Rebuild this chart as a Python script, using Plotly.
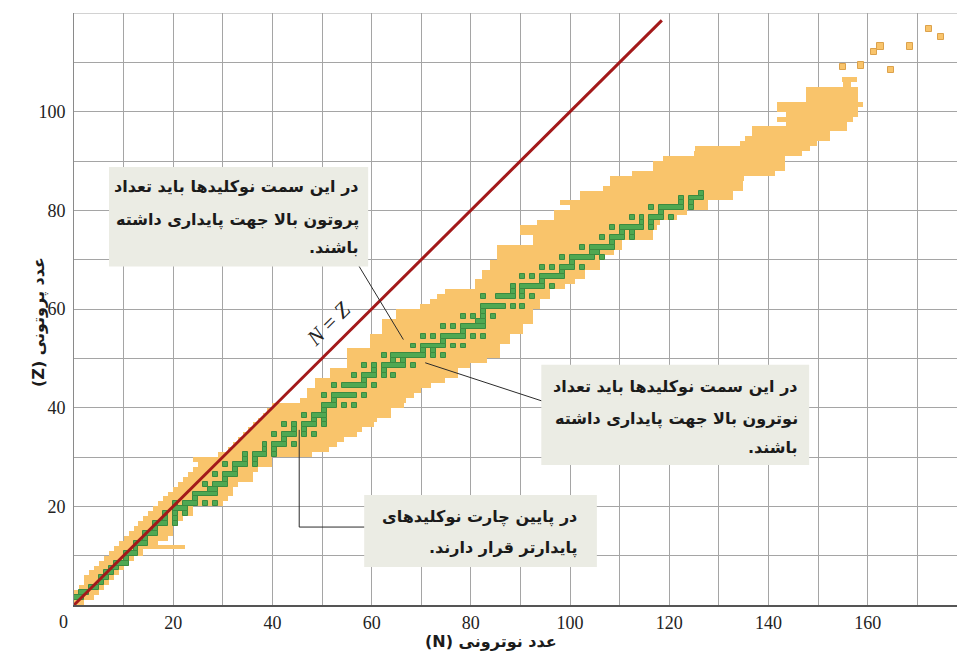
import plotly.graph_objects as go

# ---------------- data ----------------
# Known nuclides band: for each proton row Z (cell spans Z..Z+1), leftmost and rightmost N edge
orange_Z = list(range(0, 107))
orange_Nmin = [0, 0, 0, 1, 2, 2, 3, 4, 5, 6,
               7, 8, 9, 10, 11, 12, 13, 14, 15, 16,
               17, 18, 19, 20, 21, 22, 23, 24, 25, 24,
               29, 31, 32, 33, 34, 35, 36, 37, 38, 39,
               40, 45.6, 46.9, 46.9, 48.6, 48.6, 51.6, 51.6, 55, 55,
               55, 55, 59.7, 59.7, 59.7, 62, 62, 62, 65, 65,
               69.8, 71.8, 73.2, 74.8, 80.8, 80.8, 82.2, 82.2, 83.9, 83.9,
               85.2, 85.2, 85.2, 92.6, 92.6, 89.9, 89.9, 93.3, 96.7, 96.7,
               100, 98, 102, 102, 106.7, 108, 108, 112.4, 116.8, 116.8,
               118.8, 124.9, 125.2, 134.3, 135.3, 136.6, 136.6, 143.6, 141.7, 143.6,
               141.7, 141.7, 147.6, 147.6, 147.6, 155, 154.8]
orange_Nmax = [2, 4, 5, 6, 7, 8, 9, 10, 11, 12,
               14, 14, 17, 19, 20, 20, 21, 22, 24, 24,
               30, 31, 32, 32, 33, 36, 36, 37, 40, 40,
               48, 51.5, 53, 54.5, 57, 58, 60.5, 61, 64, 64,
               66.5, 67, 68.5, 70, 72, 74.8, 77.5, 77.5, 79.8, 83.2,
               85.9, 85.9, 85.9, 87.9, 87.9, 90.6, 90.6, 92.6, 92.6, 92.6,
               94, 94, 96, 96, 99, 101, 103, 103, 106, 106,
               107, 108.8, 110.4, 110.4, 116.8, 116.8, 117.5, 118.2, 121.5, 123.5,
               127.9, 127.9, 132.9, 132.9, 134.9, 134.9, 135, 141.3, 143.3, 143.3,
               143.3, 146.7, 148.4, 149.7, 152.4, 152.4, 155.8, 155.8, 157, 158,
               158, 159, 158, 158, 158, 156.6, 157.8]

# thin stray strip of known nuclides near Z = 12
strip_Z = [11.8]
strip_N0 = [14]
strip_N1 = [22.4]

# isolated superheavy nuclides (cell centres)
superheavy_N = [155.0, 158.7, 161.3, 162.6, 164.7, 168.5, 172.4, 174.8]
superheavy_Z = [109.1, 109.4, 112.1, 113.2, 108.5, 113.2, 116.8, 115.1]

# stable nuclides: neutron numbers for each Z (list index = Z)
stable_N_by_Z = [
    [], [0, 1], [1, 2], [3, 4], [5], [5, 6], [6, 7], [7, 8], [8, 9, 10], [10],
    [10, 11, 12], [12], [12, 13, 14], [14], [14, 15, 16], [16], [16, 17, 18, 20], [18, 20], [18, 20, 22], [20, 21, 22],
    [20, 22, 23, 24, 26, 28], [24], [24, 25, 26, 27, 28], [27, 28], [26, 28, 29, 30], [30], [28, 30, 31, 32], [32],
    [30, 32, 33, 34, 36], [34, 36],
    [34, 36, 37, 38, 40], [38, 40], [38, 40, 41, 42, 44], [42], [40, 42, 43, 44, 46, 48], [44, 46],
    [42, 44, 46, 47, 48, 50], [48, 50], [46, 48, 49, 50], [50],
    [50, 51, 52, 54, 56], [52], [50, 52, 53, 54, 55, 56, 58], [], [52, 54, 55, 56, 57, 58, 60], [58],
    [56, 58, 59, 60, 62, 64], [60, 62], [58, 60, 62, 63, 64, 65, 66, 68], [64, 66],
    [62, 64, 65, 66, 67, 68, 69, 70, 72, 74], [70, 72], [68, 70, 71, 72, 73, 74, 76, 78], [74],
    [70, 72, 74, 75, 76, 77, 78, 80, 82], [78], [74, 76, 78, 79, 80, 81, 82], [81, 82], [78, 80, 82, 84], [82],
    [82, 83, 84, 85, 86, 88, 90], [], [82, 85, 86, 87, 88, 90, 92], [88, 90], [88, 90, 91, 92, 93, 94, 96], [94],
    [90, 92, 94, 95, 96, 97, 98], [98], [94, 96, 98, 99, 100, 102], [100],
    [98, 100, 101, 102, 103, 104, 106], [104, 105], [102, 104, 105, 106, 107, 108], [108], [106, 108, 109, 110, 112],
    [110, 112], [108, 110, 111, 112, 113, 114, 116], [114, 116], [112, 114, 116, 117, 118, 120], [118],
    [116, 118, 119, 120, 121, 122, 124], [122, 124], [122, 124, 125, 126], [126],
]

# N = Z reference line (end points along the diagonal)
line_NZ = [0, 118.5]

x_tick_vals = list(range(0, 180, 10))
x_tick_text = [str(v) if (v % 20 == 0 and v > 0) else "" for v in x_tick_vals]
y_tick_vals = list(range(0, 130, 10))
y_tick_text = [str(v) if (v % 20 == 0 and 0 < v <= 100) else "" for v in y_tick_vals]

# ---------------- styles ----------------
ORANGE = "#f9c46b"
GREEN = "#4fa852"
GREEN_EDGE = "#3c8a40"
RED = "#a3191a"
GRID = "#a5a5a5"
BOX = "#ebece4"
FA_FONT = "DejaVu Sans"
NUM_FONT = "Liberation Serif"

fig = go.Figure()

# known nuclides band
fig.add_trace(go.Bar(
    orientation="h",
    y=[z + 0.5 for z in orange_Z],
    base=orange_Nmin,
    x=[b - a for a, b in zip(orange_Nmin, orange_Nmax)],
    width=1.0,
    marker=dict(color=ORANGE, line=dict(width=0)),
    hoverinfo="skip",
))
fig.add_trace(go.Bar(
    orientation="h",
    y=strip_Z,
    base=strip_N0,
    x=[b - a for a, b in zip(strip_N0, strip_N1)],
    width=0.8,
    marker=dict(color=ORANGE, line=dict(width=0)),
    hoverinfo="skip",
))
fig.add_trace(go.Bar(
    orientation="h",
    y=superheavy_Z,
    base=[n - 0.65 for n in superheavy_N],
    x=[1.3] * len(superheavy_N),
    width=1.3,
    marker=dict(color=ORANGE, line=dict(width=1, color="#dca24c")),
    hoverinfo="skip",
))

# stable nuclides (consecutive N merged into runs)
run_Z, run_N0, run_len = [], [], []
for z, ns in enumerate(stable_N_by_Z):
    ns = sorted(ns)
    i = 0
    while i < len(ns):
        j = i
        while j + 1 < len(ns) and ns[j + 1] == ns[j] + 1:
            j += 1
        run_Z.append(z + 0.5)
        run_N0.append(ns[i])
        run_len.append(ns[j] - ns[i] + 1)
        i = j + 1

fig.add_trace(go.Bar(
    orientation="h",
    y=run_Z,
    base=run_N0,
    x=run_len,
    width=1.0,
    marker=dict(color=GREEN, line=dict(width=1, color=GREEN_EDGE)),
    hoverinfo="skip",
))

# N = Z line
fig.add_trace(go.Scatter(
    x=line_NZ, y=line_NZ, mode="lines",
    line=dict(color=RED, width=3),
    hoverinfo="skip",
))

# ---------------- annotation boxes ----------------
shapes = [
    dict(type="line", xref="paper", yref="y", x0=0, x1=1, y0=120, y1=120,
         line=dict(color=GRID, width=1.2), layer="above"),
    dict(type="rect", xref="x", yref="y", x0=7.06, x1=59.3, y0=68.6, y1=88.8,
         fillcolor=BOX, line=dict(width=0), layer="above"),
    dict(type="rect", xref="x", yref="y", x0=94.2, x1=148.2, y0=28.4, y1=48.7,
         fillcolor=BOX, line=dict(width=0), layer="above"),
    dict(type="rect", xref="x", yref="y", x0=58.5, x1=105.4, y0=7.7, y1=22.3,
         fillcolor=BOX, line=dict(width=0), layer="above"),
    dict(type="line", xref="x", yref="y", x0=57.5, y0=68.6, x1=66.4, y1=53.8,
         line=dict(color="#2b2b2b", width=1), layer="above"),
    dict(type="line", xref="x", yref="y", x0=94.2, y0=41.4, x1=70.8, y1=49.1,
         line=dict(color="#2b2b2b", width=1), layer="above"),
    dict(type="path", xref="x", yref="y", path="M 58.5,15.8 L 45.4,15.8 L 45.4,35.5",
         line=dict(color="#2b2b2b", width=1), layer="above"),
]

RLM = "\u200f"
box_lines = [
    ("در این سمت نوکلیدها باید تعداد", 57.9, 84.8),
    ("پروتون بالا جهت پایداری داشته", 57.9, 78.1),
    ("باشند." + RLM, 57.9, 72.4),
    ("در این سمت نوکلیدها باید تعداد", 146.3, 44.2),
    ("نوترون بالا جهت پایداری داشته", 146.3, 37.7),
    ("باشند." + RLM, 146.3, 32.0),
    ("در پایین چارت نوکلیدهای", 101.8, 17.8),
    ("پایدارتر قرار دارند." + RLM, 101.8, 11.6),
]

annotations = []
for txt, x, y in box_lines:
    annotations.append(dict(
        text="<b>" + txt + "</b>", x=x, y=y, xref="x", yref="y", xanchor="right", yanchor="middle",
        showarrow=False, font=dict(family=FA_FONT, size=16, color="#1b1b1b"),
    ))

annotations += [
    dict(text="<i>N</i> = <i>Z</i>", x=51.3, y=57.1, xref="x", yref="y",
         textangle=-45, showarrow=False,
         font=dict(family=NUM_FONT, size=22, color="#222")),
    dict(text="<b>(N) عدد نوترونی</b>", x=84.1, y=0, xref="x", yref="paper",
         yanchor="middle", yshift=-36, showarrow=False,
         font=dict(family=FA_FONT, size=16, color="#1b1b1b")),
    dict(text="<b>(Z) عدد پروتونی</b>", x=-0.053, y=57.4, xref="paper", yref="y",
         textangle=-90, showarrow=False,
         font=dict(family=FA_FONT, size=16, color="#1b1b1b")),
    dict(text="0", x=0, y=0, xref="x", yref="paper", yanchor="top",
         xshift=-11, yshift=-5, showarrow=False,
         font=dict(family=NUM_FONT, size=18, color="#222")),
]

fig.update_layout(
    width=957, height=651,
    margin=dict(l=74, r=0, t=13, b=46, pad=0),
    paper_bgcolor="white", plot_bgcolor="white",
    barmode="overlay", bargap=0, showlegend=False,
    shapes=shapes, annotations=annotations,
    xaxis=dict(range=[0, 178], tickvals=x_tick_vals, ticktext=x_tick_text,
               showgrid=True, gridcolor=GRID, gridwidth=1.2, zeroline=False,
               showline=True, linecolor="#555555", linewidth=2, ticks="",
               ticklabelstandoff=0,
               tickfont=dict(family=NUM_FONT, size=18, color="#222")),
    yaxis=dict(range=[0, 120], tickvals=y_tick_vals, ticktext=y_tick_text,
               showgrid=True, gridcolor=GRID, gridwidth=1.2, zeroline=False,
               showline=True, linecolor="#8a8a8a", linewidth=1, ticks="",
               ticklabelstandoff=4,
               tickfont=dict(family=NUM_FONT, size=18, color="#222")),
)

fig.write_html("out.html", config={"displayModeBar": False},
               post_script="document.body.style.margin='0';")
